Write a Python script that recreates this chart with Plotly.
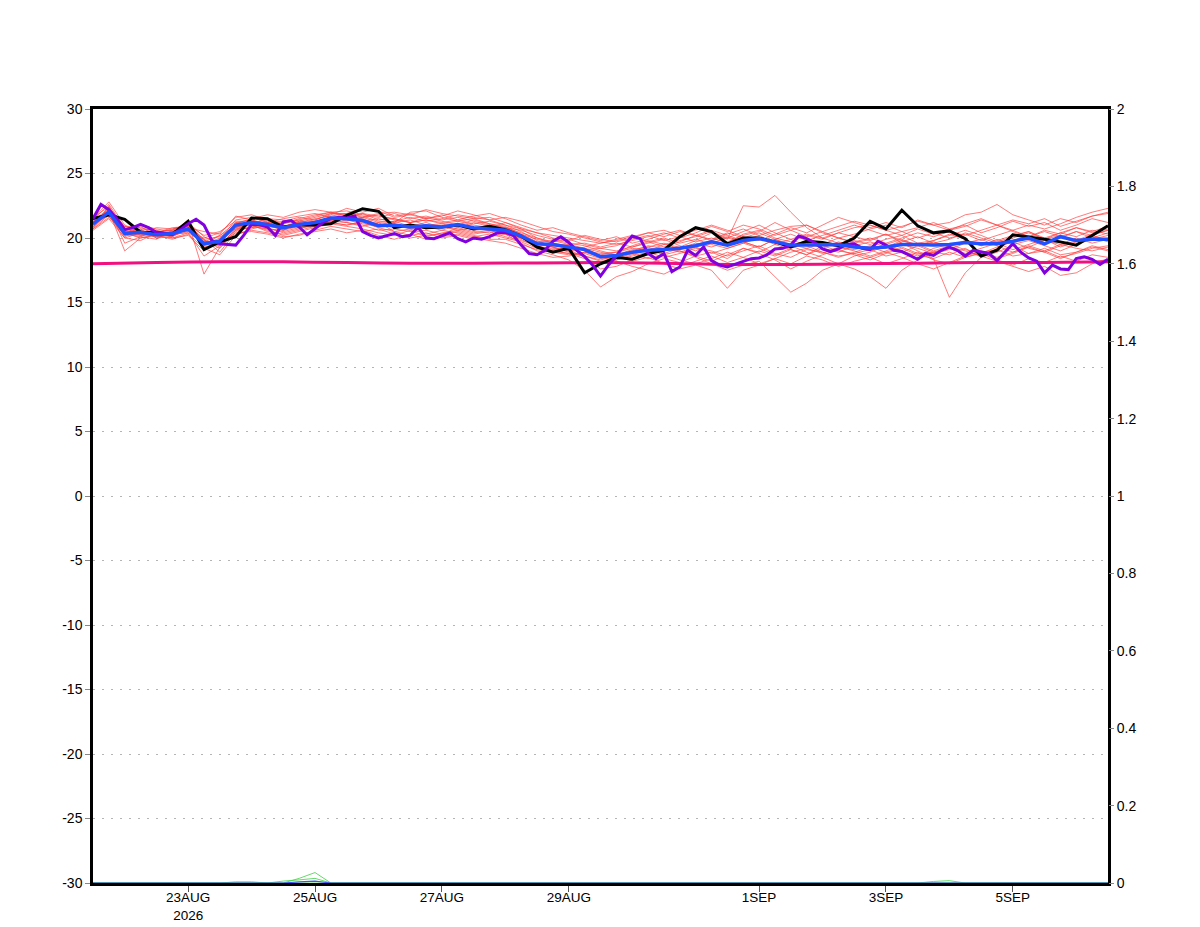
import pandas as pd
import plotly.graph_objects as go

# time axes: 6-hourly ensemble, 3-hourly deterministic, daily climatology
t6 = pd.date_range("2026-08-21 12:00", periods=65, freq="6h")
t3 = pd.date_range("2026-08-21 12:00", periods=129, freq="3h")
t24 = pd.date_range("2026-08-21 12:00", periods=17, freq="D")

tick_dates = ["2026-08-23", "2026-08-25", "2026-08-27", "2026-08-29",
              "2026-09-01", "2026-09-03", "2026-09-05"]
tick_text = ["23AUG<br>2026", "25AUG", "27AUG", "29AUG", "1SEP", "3SEP", "5SEP"]

temp_ticks = [-30, -25, -20, -15, -10, -5, 0, 5, 10, 15, 20, 25, 30]
temp_labels = ["-30", "-25", "-20", "-15", "-10", "-5", "0", "5", "10", "15", "20", "25", "30"]

# ensemble members (temperature, left axis)
members = [
    [21.0, 22.3, 20.6, 20.3, 20.5, 20.2, 20.9, 19.8, 19.5, 21.2, 21.4, 21.0, 20.6, 21.3, 21.6, 21.9, 21.7,
     21.5, 21.0, 21.3, 20.9, 21.2, 20.8, 21.1, 20.7, 20.9, 20.4, 20.0, 19.6, 19.3, 19.4, 19.0, 18.8,
     18.9, 19.2, 19.0, 19.5, 19.3, 19.8, 20.4, 19.9, 22.5, 22.4, 23.3, 22.0, 20.8, 20.0, 19.6, 19.8,
     19.5, 19.9, 20.2, 19.6, 19.8, 20.3, 19.9, 19.4, 19.8, 20.2, 20.5, 19.9, 20.4, 20.1, 20.6, 20.3],
    [20.8, 21.9, 20.1, 20.6, 20.0, 20.4, 21.2, 17.2, 19.3, 20.8, 21.0, 21.3, 21.0, 20.8, 21.0, 21.3, 21.2,
     21.0, 20.6, 20.7, 20.5, 20.6, 20.3, 20.8, 20.5, 20.4, 20.8, 20.3, 19.9, 19.6, 19.0, 19.2, 18.6,
     18.3, 18.6, 18.9, 18.5, 18.8, 19.2, 19.0, 18.6, 19.0, 19.4, 18.8, 18.5, 19.1, 18.9, 18.6, 18.8,
     18.5, 18.9, 19.3, 18.8, 18.9, 19.2, 18.7, 18.9, 19.1, 18.6, 18.8, 19.2, 18.7, 18.9, 19.3, 19.0],
    [21.4, 22.6, 20.8, 20.2, 20.4, 20.6, 20.5, 19.9, 18.9, 20.5, 20.9, 20.7, 20.5, 20.8, 20.9, 21.2, 21.0,
     21.3, 21.5, 21.2, 21.4, 21.0, 21.1, 20.8, 21.2, 20.9, 20.3, 19.6, 19.0, 18.7, 18.3, 17.5, 16.2,
     17.0, 17.4, 18.0, 18.4, 18.1, 18.6, 18.9, 18.4, 19.2, 18.9, 19.5, 19.1, 18.7, 19.4, 19.0, 18.8,
     19.1, 18.6, 18.9, 19.4, 18.9, 18.7, 19.2, 18.5, 18.9, 19.4, 18.8, 19.0, 18.5, 18.8, 19.2, 19.4],
    [21.2, 22.1, 19.0, 20.0, 20.3, 20.1, 20.8, 19.4, 19.9, 21.4, 21.6, 21.2, 21.1, 21.5, 21.8, 22.0, 22.1,
     21.8, 21.6, 21.9, 21.5, 21.7, 21.4, 21.6, 21.3, 21.0, 20.8, 20.6, 20.2, 19.9, 19.6, 19.4, 19.0,
     18.7, 19.0, 19.4, 19.2, 19.0, 18.5, 18.0, 17.5, 17.9, 18.2, 17.0, 15.8, 16.5, 17.5, 18.0, 18.6,
     18.9, 19.4, 19.0, 18.6, 19.2, 19.5, 19.1, 18.8, 19.3, 19.7, 19.2, 18.9, 19.4, 19.8, 20.1, 19.7],
    [20.9, 22.0, 20.4, 20.7, 20.6, 20.3, 20.4, 19.7, 20.2, 20.9, 21.0, 20.6, 20.2, 20.5, 20.8, 21.1, 20.9,
     20.7, 20.4, 20.2, 20.6, 20.1, 20.4, 20.6, 20.3, 20.5, 20.1, 19.8, 19.4, 19.0, 18.8, 18.6, 18.3,
     18.6, 18.2, 18.5, 18.0, 17.6, 17.9, 17.5, 16.1, 17.5, 17.9, 18.4, 18.9, 19.2, 18.8, 19.3, 19.0,
     18.6, 19.0, 19.5, 19.2, 18.8, 19.1, 19.6, 19.9, 19.4, 18.9, 19.3, 19.8, 19.5, 20.0, 19.6, 19.9],
    [21.3, 21.7, 20.2, 20.9, 20.1, 20.5, 20.6, 19.6, 19.4, 20.7, 21.1, 21.5, 21.4, 21.2, 21.5, 21.7, 21.9,
     22.3, 22.1, 21.6, 21.8, 22.2, 21.9, 21.7, 21.5, 21.6, 21.2, 20.7, 20.0, 19.7, 19.9, 19.5, 19.2,
     19.4, 19.9, 20.2, 19.8, 20.1, 19.7, 20.0, 19.6, 20.3, 20.6, 20.0, 19.7, 20.2, 19.9, 20.4, 20.1,
     19.8, 20.3, 19.6, 19.0, 18.4, 15.4, 17.3, 18.5, 19.2, 19.8, 20.2, 19.6, 20.0, 20.5, 20.2, 20.6],
    [20.7, 21.6, 20.5, 20.4, 20.8, 20.7, 21.0, 20.2, 20.5, 21.3, 21.3, 20.9, 20.7, 21.0, 21.3, 21.6, 21.4,
     21.1, 20.9, 21.1, 20.7, 20.9, 20.6, 21.0, 20.6, 20.7, 20.5, 20.0, 19.4, 19.1, 19.2, 18.8, 18.4,
     18.7, 19.1, 19.3, 19.6, 19.1, 19.5, 19.8, 20.1, 19.7, 19.3, 19.9, 19.4, 18.9, 18.5, 18.0, 17.6,
     17.0, 16.1, 17.5, 18.3, 18.9, 19.3, 18.8, 19.2, 19.6, 19.1, 19.5, 19.9, 19.3, 19.7, 20.2, 19.8],
    [21.5, 22.8, 21.0, 20.5, 20.2, 19.9, 20.3, 19.2, 18.7, 20.2, 20.7, 21.0, 21.1, 21.4, 21.0, 21.3, 21.6,
     21.9, 21.4, 21.5, 21.2, 21.4, 21.2, 21.4, 21.1, 21.3, 21.0, 20.5, 19.8, 19.3, 19.0, 19.3, 19.6,
     19.9, 20.2, 19.7, 20.0, 19.6, 19.9, 19.5, 19.2, 19.6, 20.0, 19.5, 19.9, 20.3, 20.0, 20.4, 20.8,
     21.0, 20.6, 20.9, 21.3, 21.0, 21.2, 21.8, 22.0, 22.6, 21.8, 21.4, 21.0, 21.5, 21.2, 21.7, 22.0],
    [21.0, 22.2, 19.6, 20.1, 19.9, 20.6, 21.1, 19.8, 19.2, 20.6, 20.8, 21.2, 21.5, 21.7, 21.9, 21.6, 21.3,
     21.6, 21.9, 22.0, 21.8, 21.5, 21.7, 22.1, 21.8, 21.4, 21.6, 21.3, 20.9, 20.5, 20.3, 20.0, 19.7,
     19.5, 19.8, 20.1, 20.4, 20.0, 20.4, 20.9, 20.5, 21.0, 20.7, 20.2, 20.6, 20.1, 20.5, 20.0, 20.3,
     20.7, 21.0, 20.5, 20.8, 21.2, 20.7, 21.0, 20.4, 20.8, 21.3, 20.9, 21.2, 20.6, 21.0, 21.5, 21.2],
    [21.6, 22.4, 20.9, 20.8, 20.5, 20.2, 20.5, 20.0, 20.4, 21.6, 21.8, 21.4, 20.9, 21.2, 21.4, 21.8, 22.3,
     22.0, 22.3, 21.7, 21.9, 21.5, 21.8, 21.4, 21.7, 21.9, 21.5, 21.0, 20.6, 20.8, 20.4, 20.1, 19.8,
     20.1, 19.6, 19.9, 20.3, 20.6, 20.2, 19.8, 20.3, 20.7, 20.2, 20.6, 20.9, 21.0, 20.5, 20.9, 21.3,
     21.0, 20.6, 20.2, 20.7, 20.3, 20.6, 20.9, 21.4, 21.0, 20.6, 21.0, 20.7, 21.1, 21.6, 22.0, 22.3],
    [20.6, 21.5, 20.0, 19.8, 20.4, 20.8, 20.9, 19.3, 19.6, 20.4, 20.5, 20.3, 20.0, 20.3, 20.5, 20.7, 20.4,
     20.6, 20.2, 19.9, 20.3, 19.9, 20.1, 20.3, 20.0, 19.8, 19.6, 19.2, 18.8, 18.5, 18.6, 18.9, 18.5,
     18.2, 17.8, 17.5, 17.2, 17.8, 18.2, 18.6, 18.1, 18.5, 18.0, 18.4, 18.0, 18.6, 18.3, 17.8, 18.2,
     18.5, 18.0, 18.4, 18.9, 18.3, 18.0, 18.5, 18.8, 18.3, 17.9, 18.4, 18.1, 18.6, 18.2, 18.7, 18.5],
    [21.2, 21.8, 20.7, 20.6, 20.3, 20.4, 21.4, 19.5, 20.0, 21.1, 21.5, 21.8, 21.6, 22.0, 22.2, 22.0, 21.8,
     21.7, 21.3, 21.2, 22.0, 22.1, 21.6, 21.3, 21.5, 21.1, 20.9, 20.3, 19.7, 19.4, 19.5, 19.2, 18.9,
     18.6, 18.9, 19.3, 18.8, 19.2, 19.6, 19.3, 19.7, 20.2, 20.5, 21.2, 20.6, 21.0, 20.4, 20.0, 19.6,
     19.9, 20.3, 19.8, 19.4, 19.8, 20.2, 20.6, 20.2, 19.7, 20.1, 20.5, 20.0, 20.4, 20.8, 20.5, 20.9],
    [20.8, 22.5, 20.3, 20.1, 20.6, 20.0, 20.2, 19.0, 19.9, 21.0, 21.2, 20.8, 20.4, 20.7, 21.1, 21.4, 21.2,
     20.9, 21.2, 20.5, 20.2, 20.4, 20.0, 20.2, 19.9, 20.1, 20.3, 20.0, 19.5, 19.3, 18.9, 18.6, 18.2,
     18.4, 18.8, 18.4, 18.7, 18.3, 18.0, 18.4, 18.9, 18.5, 19.0, 18.6, 19.1, 18.7, 19.2, 18.9, 19.4,
     19.0, 19.5, 19.9, 19.4, 19.7, 19.3, 19.0, 18.6, 18.2, 17.8, 17.4, 17.8, 17.1, 17.3, 18.0, 18.4],
    [21.1, 22.0, 20.6, 21.0, 20.7, 20.5, 20.8, 20.5, 20.3, 21.7, 21.4, 21.1, 20.6, 20.9, 21.1, 21.4, 21.6,
     21.4, 21.1, 21.0, 20.8, 21.0, 20.9, 20.6, 20.8, 20.6, 20.4, 20.0, 19.7, 19.8, 19.5, 19.6, 19.3,
     19.6, 19.3, 19.6, 19.9, 19.4, 19.0, 19.6, 20.0, 19.7, 19.3, 19.9, 19.5, 19.2, 19.6, 19.3, 19.1,
     19.4, 19.2, 19.7, 20.1, 19.6, 19.9, 20.4, 20.0, 19.6, 20.0, 20.4, 19.9, 20.2, 19.8, 20.3, 20.6],
    [21.4, 22.2, 20.2, 20.3, 20.1, 20.3, 20.6, 19.7, 19.8, 20.9, 21.0, 20.5, 20.3, 20.6, 20.9, 21.2, 21.0,
     21.2, 20.8, 20.5, 20.7, 20.3, 20.6, 20.4, 20.1, 20.3, 20.0, 19.7, 19.2, 19.0, 18.8, 18.4, 18.0,
     18.3, 18.7, 19.1, 18.7, 19.0, 18.6, 18.2, 18.7, 19.2, 18.8, 18.3, 17.6, 18.2, 18.7, 19.1, 18.7,
     18.3, 18.8, 19.2, 18.7, 18.4, 18.9, 18.5, 18.9, 18.4, 18.8, 19.3, 18.9, 18.4, 18.9, 19.4, 19.1],
    [20.9, 21.9, 20.9, 20.5, 20.4, 20.7, 21.0, 19.9, 20.1, 20.7, 20.8, 21.0, 21.3, 21.6, 21.4, 21.9, 21.9,
     21.6, 21.8, 21.4, 21.2, 21.4, 21.1, 21.3, 21.0, 20.8, 21.2, 20.8, 20.4, 20.0, 19.8, 20.2, 19.9,
     19.7, 20.0, 20.4, 20.1, 20.5, 20.2, 19.9, 20.4, 20.0, 20.4, 19.9, 20.3, 19.8, 20.2, 20.6, 21.0,
     20.6, 20.2, 20.5, 20.0, 20.4, 20.0, 20.3, 19.8, 20.2, 20.6, 20.1, 20.5, 20.1, 20.5, 20.0, 20.4],
    [21.3, 22.1, 20.4, 20.0, 20.2, 20.0, 20.4, 18.6, 19.4, 20.3, 20.6, 20.4, 20.1, 20.2, 20.6, 20.9, 20.7,
     20.5, 20.7, 20.3, 20.0, 20.2, 20.3, 20.5, 20.2, 19.9, 19.9, 19.5, 19.1, 18.9, 18.7, 18.9, 18.7,
     18.9, 19.4, 19.8, 19.5, 19.8, 20.1, 20.5, 20.0, 20.5, 21.0, 20.4, 19.9, 19.4, 18.9, 18.5, 18.9,
     19.3, 18.9, 18.5, 18.0, 17.6, 18.1, 18.6, 19.0, 18.5, 18.9, 19.4, 19.0, 19.5, 19.2, 19.0, 19.3],
    [21.0, 22.4, 20.5, 20.7, 20.0, 20.1, 20.7, 19.5, 20.2, 21.2, 21.1, 20.7, 20.6, 21.1, 21.3, 21.5, 21.4,
     21.6, 21.2, 21.3, 21.6, 21.3, 21.5, 21.8, 21.6, 21.4, 21.0, 20.7, 20.4, 20.2, 20.0, 19.8, 19.6,
     19.8, 20.1, 20.4, 20.6, 20.2, 20.6, 21.0, 20.6, 20.1, 19.8, 20.3, 20.8, 20.4, 21.0, 21.6, 21.2,
     20.8, 21.2, 20.8, 21.4, 21.0, 20.6, 21.1, 21.5, 21.0, 21.4, 21.1, 21.5, 20.9, 21.3, 21.7, 21.9],
    [21.2, 21.7, 20.0, 20.4, 20.5, 20.6, 21.2, 20.1, 19.5, 20.6, 21.2, 21.4, 21.2, 21.4, 21.7, 22.0, 21.7,
     21.9, 21.7, 21.5, 21.2, 21.6, 21.3, 21.0, 21.4, 21.1, 20.8, 20.4, 20.0, 19.6, 19.4, 19.1, 19.2,
     19.0, 19.3, 19.7, 19.3, 19.7, 20.2, 20.6, 20.2, 19.8, 20.2, 19.6, 19.3, 19.8, 19.5, 20.0, 19.7,
     20.0, 19.6, 20.0, 20.4, 20.1, 20.5, 20.2, 20.6, 21.0, 20.5, 20.1, 20.6, 20.3, 20.8, 20.4, 20.7],
    [20.7, 21.8, 20.3, 20.2, 20.3, 20.5, 20.9, 19.6, 19.8, 20.8, 21.3, 21.2, 20.9, 21.3, 21.1, 21.5, 21.5,
     21.3, 21.0, 20.8, 21.1, 20.7, 20.9, 20.7, 20.4, 20.6, 20.3, 19.9, 19.3, 19.2, 19.1, 18.5, 17.6,
     17.8, 18.3, 18.7, 19.2, 18.9, 19.3, 18.8, 19.2, 19.6, 19.2, 18.7, 19.2, 19.6, 19.2, 19.7, 19.4,
     19.7, 19.3, 19.8, 19.5, 19.0, 19.4, 19.8, 19.4, 19.9, 19.5, 19.8, 19.4, 19.0, 19.5, 19.9, 20.2],
]

ens_mean = [21.1, 22.0, 20.35, 20.45, 20.25, 20.35, 20.7, 19.55, 19.75, 21.0, 21.2, 21.05, 20.8, 21.05, 21.2, 21.55, 21.5,
            21.35, 20.95, 21.0, 20.85, 20.95, 20.85, 21.05, 20.8, 20.7, 20.6, 20.15, 19.55, 19.5, 19.3, 19.1, 18.55,
            18.65, 18.9, 19.05, 19.1, 19.2, 19.4, 19.7, 19.45, 19.8, 19.95, 19.7, 19.45, 19.45, 19.45, 19.5, 19.3,
            19.2, 19.3, 19.5, 19.5, 19.45, 19.5, 19.65, 19.55, 19.55, 19.75, 20.0, 19.55, 20.1, 19.8, 19.9, 19.9]

control = [21.5, 21.8, 21.45, 20.45, 20.4, 20.3, 21.3, 19.1, 19.7, 20.1, 21.55, 21.5, 20.85, 21.0, 21.0, 21.1, 21.75,
           22.27, 22.07, 20.8, 21.0, 20.8, 20.85, 21.0, 20.7, 20.9, 20.65, 20.15, 19.3, 18.9, 19.2, 17.3, 18.0,
           18.5, 18.35, 18.8, 19.05, 20.1, 20.8, 20.5, 19.55, 20.0, 20.0, 19.7, 19.3, 19.75, 19.65, 19.4, 20.0,
           21.3, 20.7, 22.15, 20.95, 20.4, 20.55, 19.95, 18.6, 19.05, 20.25, 20.1, 19.9, 19.7, 19.45, 20.2, 20.95]

deterministic = [21.5, 22.6, 22.2, 21.5, 20.65, 20.8, 21.05, 20.8, 20.45, 20.35, 20.25, 20.65, 21.1, 21.45, 21.0, 19.8,
                 19.55, 19.5, 19.45, 20.2, 21.05, 21.05, 20.85, 20.2, 21.25, 21.35, 20.85, 20.25, 20.7, 21.2, 21.5, 21.6, 21.55,
                 21.7, 20.5, 20.2, 20.0, 20.2, 20.35, 20.1, 20.2, 20.85, 20.0, 19.95, 20.15, 20.4, 19.95, 19.7, 20.0,
                 19.9, 20.1, 20.4, 20.45, 20.2, 19.45, 18.8, 18.7, 19.05, 19.75, 20.1, 19.65, 19.05, 18.55, 17.9, 17.05,
                 17.9, 18.6, 19.45, 20.15, 19.95, 18.8, 18.4, 18.8, 17.4, 17.75, 19.05, 18.65, 19.3, 18.25, 17.9, 17.75,
                 17.95, 18.2, 18.4, 18.45, 18.7, 19.15, 19.2, 19.45, 20.15, 19.95, 19.65, 19.15, 18.95, 19.15, 19.5, 19.55,
                 19.2, 19.1, 19.75, 19.45, 19.05, 18.95, 18.65, 18.35, 18.8, 18.65, 19.05, 19.3, 19.05, 18.6, 19.05, 18.95,
                 18.8, 18.25, 18.9, 19.55, 18.9, 18.45, 18.2, 17.3, 17.9, 17.6, 17.55, 18.4, 18.55, 18.35, 17.95, 18.35]

climate = [18.0, 18.1, 18.15, 18.15, 18.1, 18.05, 18.05, 18.07, 18.1, 18.05, 17.95, 17.95, 18.0, 18.05, 18.1, 18.1, 18.15]

# precipitation (right axis), mostly dry
precip_members = [
    [0] * 12 + [0.0, 0.012, 0.027, 0.0] + [0] * 49,
    [0] * 9 + [0.003, 0.003, 0.0, 0.005, 0.008, 0.012, 0.0] + [0] * 49,
    [0] * 53 + [0.004, 0.006, 0.0] + [0] * 9,
]
precip_mean = [0] * 13 + [0.003, 0.005, 0.0] + [0] * 49

fig = go.Figure()

for m in members:
    fig.add_trace(go.Scatter(x=t6, y=m, mode="lines",
                             line=dict(color="rgba(255,60,60,0.85)", width=0.8)))

for p in precip_members:
    fig.add_trace(go.Scatter(x=t6, y=p, mode="lines", yaxis="y2",
                             line=dict(color="#40d040", width=0.8)))
fig.add_trace(go.Scatter(x=t6, y=precip_mean, mode="lines", yaxis="y2",
                         line=dict(color="#4050ff", width=1.2)))

fig.add_trace(go.Scatter(x=t24, y=climate, mode="lines", line_shape="spline",
                         line=dict(color="#f0107f", width=3)))
fig.add_trace(go.Scatter(x=t6, y=control, mode="lines",
                         line=dict(color="black", width=3)))
fig.add_trace(go.Scatter(x=t3, y=deterministic, mode="lines",
                         line=dict(color="#8000e0", width=3)))
fig.add_trace(go.Scatter(x=t6, y=ens_mean, mode="lines",
                         line=dict(color="#2050ff", width=3.5)))

# page body has an 8px margin, so the figure is shrunk to fit the window
fig.update_layout(
    width=1192, height=919,
    margin=dict(l=85, r=92, t=101, b=44),
    paper_bgcolor="white", plot_bgcolor="white",
    showlegend=False,
    font=dict(family="Liberation Sans, Arial, sans-serif", size=14, color="black"),
    xaxis=dict(
        type="date", range=["2026-08-21 12:00", "2026-09-06 12:00"],
        tickvals=tick_dates, ticktext=tick_text, automargin=False,
        tickfont=dict(size=13.5), ticklabelstandoff=-6,
        ticks="outside", ticklen=6, tickcolor="#555", tickwidth=1,
        showgrid=False, zeroline=False,
        showline=True, linecolor="black", linewidth=2.5, mirror=True,
    ),
    yaxis=dict(
        range=[-30, 30], tickvals=temp_ticks, ticktext=temp_labels, automargin=False,
        ticks="outside", ticklen=5, tickcolor="#888",
        showgrid=True, gridcolor="#b4b4b4", gridwidth=1, griddash="2px,7px",
        zeroline=False,
        showline=True, linecolor="black", linewidth=2.5, mirror=True,
    ),
    yaxis2=dict(
        range=[0, 2], dtick=0.2, tick0=0, overlaying="y", side="right", automargin=False,
        ticks="outside", ticklen=5, tickcolor="#888",
        showgrid=False, zeroline=False, showline=False,
    ),
)

fig.write_html("out.html")
